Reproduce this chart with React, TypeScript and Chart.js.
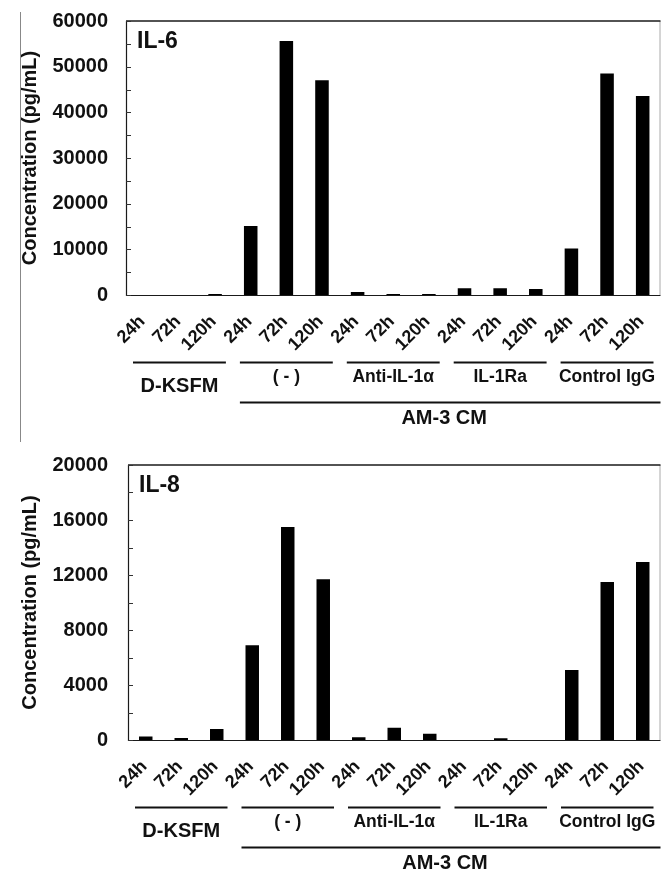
import React, { useEffect, useRef } from "react";
import { Chart, registerables } from "chart.js";

Chart.register(...registerables);

// ---------- data ----------
const timeLabels = ["24h", "72h", "120h", "24h", "72h", "120h", "24h", "72h", "120h", "24h", "72h", "120h", "24h", "72h", "120h"];
const groupNames = ["D-KSFM", "( - )", "Anti-IL-1\u03b1", "IL-1Ra", "Control IgG"];
const parentLabel = "AM-3 CM";
const yAxisTitle = "Concentration (pg/mL)";

const il6Name = "IL-6";
const il6Values = [0, 0, 200, 15100, 55600, 47000, 650, 200, 200, 1500, 1500, 1300, 10200, 48500, 43600];
const il6Max = 60000;
const il6Step = 10000;

const il8Name = "IL-8";
const il8Values = [250, 150, 800, 6900, 15500, 11700, 200, 900, 450, 0, 120, 0, 5100, 11500, 12950];
const il8Max = 20000;
const il8Step = 4000;

const FONT = "'Liberation Sans', Arial, Helvetica, sans-serif";

type PanelCfg = {
  name: string;
  values: number[];
  max: number;
  step: number;
  height: number;
  plotTop: number;
  plotBottom: number;
  axisWidth: number;
};

function decoPlugin(cfg: PanelCfg) {
  return {
    id: "deco",
    afterDraw(chart: any) {
      const { ctx, chartArea: a, scales } = chart;
      const x = scales.x;
      const y = scales.y;
      ctx.save();
      // frame
      ctx.strokeStyle = "#aaaaaa";
      ctx.lineWidth = 1;
      ctx.beginPath();
      ctx.moveTo(a.right - 0.5, a.top);
      ctx.lineTo(a.right - 0.5, a.bottom);
      ctx.stroke();
      ctx.strokeStyle = "#1a1a1a";
      ctx.lineWidth = 1.6;
      ctx.beginPath();
      ctx.moveTo(a.left, a.top);
      ctx.lineTo(a.right, a.top);
      ctx.stroke();
      ctx.lineWidth = 1.2;
      ctx.beginPath();
      ctx.moveTo(a.left + 0.5, a.top);
      ctx.lineTo(a.left + 0.5, a.bottom + 0.5);
      ctx.lineTo(a.right, a.bottom + 0.5);
      ctx.stroke();
      // inner tick marks
      ctx.strokeStyle = "#333";
      ctx.lineWidth = 1;
      for (let v = 0; v <= cfg.max; v += cfg.step / 2) {
        const py = Math.round(y.getPixelForValue(v)) + 0.5;
        ctx.beginPath();
        ctx.moveTo(a.left, py);
        ctx.lineTo(a.left + 5, py);
        ctx.stroke();
      }
      // panel name
      ctx.fillStyle = "#111";
      ctx.font = `bold 23px ${FONT}`;
      ctx.textAlign = "left";
      ctx.textBaseline = "alphabetic";
      ctx.fillText(cfg.name, a.left + 11, a.top + 27);
      // group lines & labels
      const half = (x.getPixelForValue(1) - x.getPixelForValue(0)) / 2;
      ctx.lineWidth = 2.2;
      ctx.strokeStyle = "#111";
      ctx.textAlign = "center";
      ctx.textBaseline = "middle";
      groupNames.forEach((g, i) => {
        const l = x.getPixelForValue(3 * i) - half + 7;
        const r = x.getPixelForValue(3 * i + 2) + half - 7;
        const ly = a.bottom + 67.5;
        ctx.beginPath();
        ctx.moveTo(l, ly);
        ctx.lineTo(r, ly);
        ctx.stroke();
        if (i === 0) {
          ctx.font = `bold 20px ${FONT}`;
          ctx.fillText(g, (l + r) / 2, a.bottom + 91);
        } else {
          ctx.font = `bold 17.5px ${FONT}`;
          ctx.fillText(g, (l + r) / 2, a.bottom + 82);
        }
      });
      // parent group
      const pl = x.getPixelForValue(3) - half + 7;
      const pr = a.right;
      const py = a.bottom + 107.5;
      ctx.beginPath();
      ctx.moveTo(pl, py);
      ctx.lineTo(pr, py);
      ctx.stroke();
      ctx.font = `bold 20px ${FONT}`;
      ctx.fillText(parentLabel, (pl + pr) / 2 - 6, a.bottom + 123.5);
      ctx.restore();
    },
  };
}

function Panel({ cfg }: { cfg: PanelCfg }) {
  const ref = useRef<HTMLCanvasElement | null>(null);
  useEffect(() => {
    if (!ref.current) return;
    const chart = new Chart(ref.current, {
      type: "bar",
      data: {
        labels: timeLabels,
        datasets: [
          {
            data: cfg.values,
            backgroundColor: "#000000",
            borderWidth: 0,
            barPercentage: 0.38,
            categoryPercentage: 1,
          },
        ],
      },
      options: {
        animation: false,
        responsive: false,
        devicePixelRatio: 1,
        layout: { padding: { top: cfg.plotTop, right: 1.5, left: 0, bottom: 0 } },
        plugins: { legend: { display: false }, tooltip: { enabled: false } },
        scales: {
          x: {
            grid: { display: false, drawTicks: false },
            border: { display: false },
            ticks: {
              autoSkip: false,
              minRotation: 45,
              maxRotation: 45,
              padding: 16,
              labelOffset: -1.5,
              color: "#111",
              font: { family: FONT, size: 18, weight: "bold" },
            },
            afterFit: (s: any) => {
              s.height = cfg.height - cfg.plotBottom;
              s.paddingLeft = 0;
              s.paddingRight = 0;
            },
          },
          y: {
            min: 0,
            max: cfg.max,
            grid: { display: false, drawTicks: false },
            border: { display: false },
            ticks: {
              stepSize: cfg.step,
              padding: cfg.axisWidth - 108,
              color: "#111",
              font: { family: FONT, size: 20, weight: "bold" },
              callback: (v: any) => String(v),
            },
            title: {
              display: true,
              text: yAxisTitle,
              color: "#111",
              padding: { top: 18, bottom: 0 },
              font: { family: FONT, size: 20, weight: "bold" },
            },
            afterFit: (s: any) => {
              s.width = cfg.axisWidth;
              s.paddingTop = 0;
              s.paddingBottom = 0;
            },
          },
        },
      } as any,
      plugins: [decoPlugin(cfg)],
    });
    return () => chart.destroy();
  }, [cfg]);
  return <canvas ref={ref} width={662} height={cfg.height} style={{ display: "block", width: 662, height: cfg.height }} />;
}

const topCfg: PanelCfg = {
  name: il6Name,
  values: il6Values,
  max: il6Max,
  step: il6Step,
  height: 437,
  plotTop: 21,
  plotBottom: 295,
  axisWidth: 126,
};

const bottomCfg: PanelCfg = {
  name: il8Name,
  values: il8Values,
  max: il8Max,
  step: il8Step,
  height: 437,
  plotTop: 28,
  plotBottom: 303,
  axisWidth: 128,
};

export default function App() {
  return (
    <div style={{ position: "absolute", left: 0, top: 0, width: 662, height: 874, background: "#fff", overflow: "hidden" }}>
      <Panel cfg={topCfg} />
      <Panel cfg={bottomCfg} />
      <div style={{ position: "absolute", left: 20, top: 12, width: 1, height: 430, background: "#888" }} />
    </div>
  );
}
